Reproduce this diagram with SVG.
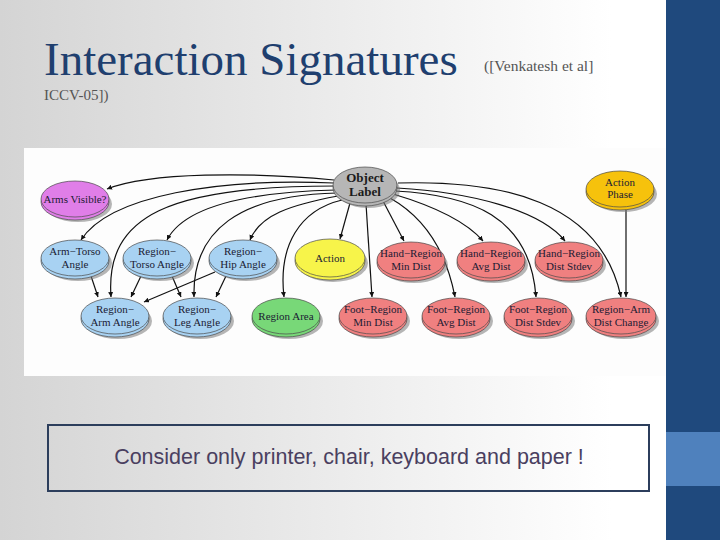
<svg xmlns="http://www.w3.org/2000/svg" width="720" height="540" viewBox="0 0 720 540">
<defs>
<linearGradient id="bg" x1="0" y1="0" x2="1" y2="0">
<stop offset="0" stop-color="#d4d4d4"/>
<stop offset="0.85" stop-color="#ffffff"/>
<stop offset="1" stop-color="#ffffff"/>
</linearGradient>
<marker id="ah" markerUnits="userSpaceOnUse" markerWidth="6" markerHeight="5" refX="5" refY="2.5" orient="auto">
<path d="M0,0 L5,2.5 L0,5 z" fill="#111"/>
</marker>
<style>
.sh{fill:#7a7a7a;opacity:.55}
.b,.f{stroke:#4a4a4a;stroke-width:.7}
.purple .b,.purple .f{fill:#e07ee8}
.gray .b,.gray .f{fill:#b6b6b6}
.orange .b,.orange .f{fill:#f6c20c}
.blue .b,.blue .f{fill:#a8d2f2}
.yellow .b,.yellow .f{fill:#f7f44a}
.red .b,.red .f{fill:#f08080}
.green .b,.green .f{fill:#78d878}
.t{font-family:"Liberation Serif",serif;font-size:11px;fill:#1b1b33;text-anchor:middle}
.tb{font-family:"Liberation Serif",serif;font-size:13px;font-weight:bold;fill:#1b1b1b;text-anchor:middle}
#edges path{fill:none;stroke:#111;stroke-width:1.2;marker-end:url(#ah)}
</style>
</defs>
<rect x="0" y="0" width="720" height="540" fill="url(#bg)"/>
<rect x="666" y="0" width="54" height="540" fill="#1f497d"/>
<rect x="666" y="432" width="54" height="54" fill="#4f81bd"/>
<text x="44" y="75" font-family="Liberation Serif,serif" font-size="47" fill="#1f3f6f">Interaction Signatures</text>
<text x="484" y="71" font-family="Liberation Serif,serif" font-size="15.5" fill="#555">([Venkatesh et al]</text>
<text x="44" y="100" font-family="Liberation Serif,serif" font-size="15" fill="#555">ICCV-05])</text>
<rect x="24" y="148" width="642" height="228" fill="#fdfdfd"/>
<g id="edges">
<path d="M334,180 C250,172 150,172 107,189"/>
<path d="M334,183 C220,178 110,195 81,240"/>
<path d="M335,186 C170,186 105,215 111,297"/>
<path d="M336,190 C250,192 185,205 167,240"/>
<path d="M337,193 C240,195 192,230 194,297"/>
<path d="M338,196 C290,205 260,215 250,240"/>
<path d="M342,200 C300,210 278,245 284,297"/>
<path d="M350,203 L340,239"/>
<path d="M366,204 L372,297"/>
<path d="M383,201 L404,241"/>
<path d="M390,198 C420,215 445,245 455,297"/>
<path d="M393,194 C430,205 465,220 483,241"/>
<path d="M395,191 C470,195 530,215 536,297"/>
<path d="M397,188 C470,192 540,210 565,241"/>
<path d="M398,183 C500,180 600,200 621,297"/>
<path d="M626,208 L626,297"/>
<path d="M91,276 L98,297"/>
<path d="M141,276 L131,297"/>
<path d="M215,272 L144,302"/>
<path d="M172,276 L181,297"/>
<path d="M226,276 L216,297"/>
</g>
<g id="n-armsvisible" class="purple"><ellipse class="sh" cx="78" cy="204" rx="34" ry="18"/><ellipse class="b" cx="75" cy="202" rx="34" ry="18"/><ellipse class="f" cx="75" cy="199" rx="34" ry="18"/><text class="t" x="75" y="203">Arms Visible?</text></g>
<g id="n-objectlabel" class="gray"><ellipse class="sh" cx="368" cy="190" rx="32" ry="18"/><ellipse class="b" cx="365" cy="188" rx="32" ry="18"/><ellipse class="f" cx="365" cy="185" rx="32" ry="18"/><text class="tb" x="365" y="182">Object</text><text class="tb" x="365" y="196">Label</text></g>
<g id="n-actionphase" class="orange"><ellipse class="sh" cx="623" cy="194" rx="34" ry="18"/><ellipse class="b" cx="620" cy="192" rx="34" ry="18"/><ellipse class="f" cx="620" cy="189" rx="34" ry="18"/><text class="t" x="620" y="186">Action</text><text class="t" x="620" y="198">Phase</text></g>
<g id="n-armtorso" class="blue"><ellipse class="sh" cx="78" cy="263" rx="34" ry="18"/><ellipse class="b" cx="75" cy="261" rx="34" ry="18"/><ellipse class="f" cx="75" cy="258" rx="34" ry="18"/><text class="t" x="75" y="255">Arm−Torso</text><text class="t" x="75" y="268">Angle</text></g>
<g id="n-regiontorso" class="blue"><ellipse class="sh" cx="160" cy="263" rx="34" ry="18"/><ellipse class="b" cx="157" cy="261" rx="34" ry="18"/><ellipse class="f" cx="157" cy="258" rx="34" ry="18"/><text class="t" x="157" y="255">Region−</text><text class="t" x="157" y="268">Torso Angle</text></g>
<g id="n-regionhip" class="blue"><ellipse class="sh" cx="246" cy="263" rx="34" ry="18"/><ellipse class="b" cx="243" cy="261" rx="34" ry="18"/><ellipse class="f" cx="243" cy="258" rx="34" ry="18"/><text class="t" x="243" y="255">Region−</text><text class="t" x="243" y="268">Hip Angle</text></g>
<g id="n-action" class="yellow"><ellipse class="sh" cx="333" cy="263" rx="35" ry="19"/><ellipse class="b" cx="330" cy="261" rx="35" ry="19"/><ellipse class="f" cx="330" cy="258" rx="35" ry="19"/><text class="t" x="330" y="262">Action</text></g>
<g id="n-handmin" class="red"><ellipse class="sh" cx="414" cy="265" rx="34" ry="18"/><ellipse class="b" cx="411" cy="263" rx="34" ry="18"/><ellipse class="f" cx="411" cy="260" rx="34" ry="18"/><text class="t" x="411" y="257">Hand−Region</text><text class="t" x="411" y="270">Min Dist</text></g>
<g id="n-handavg" class="red"><ellipse class="sh" cx="494" cy="265" rx="34" ry="18"/><ellipse class="b" cx="491" cy="263" rx="34" ry="18"/><ellipse class="f" cx="491" cy="260" rx="34" ry="18"/><text class="t" x="491" y="257">Hand−Region</text><text class="t" x="491" y="270">Avg Dist</text></g>
<g id="n-handstd" class="red"><ellipse class="sh" cx="572" cy="265" rx="34" ry="18"/><ellipse class="b" cx="569" cy="263" rx="34" ry="18"/><ellipse class="f" cx="569" cy="260" rx="34" ry="18"/><text class="t" x="569" y="257">Hand−Region</text><text class="t" x="569" y="270">Dist Stdev</text></g>
<g id="n-regionarm" class="blue"><ellipse class="sh" cx="118" cy="321" rx="34" ry="18"/><ellipse class="b" cx="115" cy="319" rx="34" ry="18"/><ellipse class="f" cx="115" cy="316" rx="34" ry="18"/><text class="t" x="115" y="313">Region−</text><text class="t" x="115" y="326">Arm Angle</text></g>
<g id="n-regionleg" class="blue"><ellipse class="sh" cx="200" cy="321" rx="34" ry="18"/><ellipse class="b" cx="197" cy="319" rx="34" ry="18"/><ellipse class="f" cx="197" cy="316" rx="34" ry="18"/><text class="t" x="197" y="313">Region−</text><text class="t" x="197" y="326">Leg Angle</text></g>
<g id="n-regionarea" class="green"><ellipse class="sh" cx="289" cy="321" rx="34" ry="18"/><ellipse class="b" cx="286" cy="319" rx="34" ry="18"/><ellipse class="f" cx="286" cy="316" rx="34" ry="18"/><text class="t" x="286" y="320">Region Area</text></g>
<g id="n-footmin" class="red"><ellipse class="sh" cx="376" cy="321" rx="34" ry="18"/><ellipse class="b" cx="373" cy="319" rx="34" ry="18"/><ellipse class="f" cx="373" cy="316" rx="34" ry="18"/><text class="t" x="373" y="313">Foot−Region</text><text class="t" x="373" y="326">Min Dist</text></g>
<g id="n-footavg" class="red"><ellipse class="sh" cx="459" cy="321" rx="34" ry="18"/><ellipse class="b" cx="456" cy="319" rx="34" ry="18"/><ellipse class="f" cx="456" cy="316" rx="34" ry="18"/><text class="t" x="456" y="313">Foot−Region</text><text class="t" x="456" y="326">Avg Dist</text></g>
<g id="n-footstd" class="red"><ellipse class="sh" cx="541" cy="321" rx="34" ry="18"/><ellipse class="b" cx="538" cy="319" rx="34" ry="18"/><ellipse class="f" cx="538" cy="316" rx="34" ry="18"/><text class="t" x="538" y="313">Foot−Region</text><text class="t" x="538" y="326">Dist Stdev</text></g>
<g id="n-distchange" class="red"><ellipse class="sh" cx="624" cy="321" rx="35" ry="18"/><ellipse class="b" cx="621" cy="319" rx="35" ry="18"/><ellipse class="f" cx="621" cy="316" rx="35" ry="18"/><text class="t" x="621" y="313">Region−Arm</text><text class="t" x="621" y="326">Dist Change</text></g>
<g id="note">
<rect x="48" y="425" width="601" height="66" fill="none" stroke="#2c3e5c" stroke-width="2"/>
<text x="349" y="464" font-family="Liberation Sans,Arial,sans-serif" font-size="21.5" fill="#4a3f60" text-anchor="middle">Consider only printer, chair, keyboard and paper !</text>
</g>
</svg>
